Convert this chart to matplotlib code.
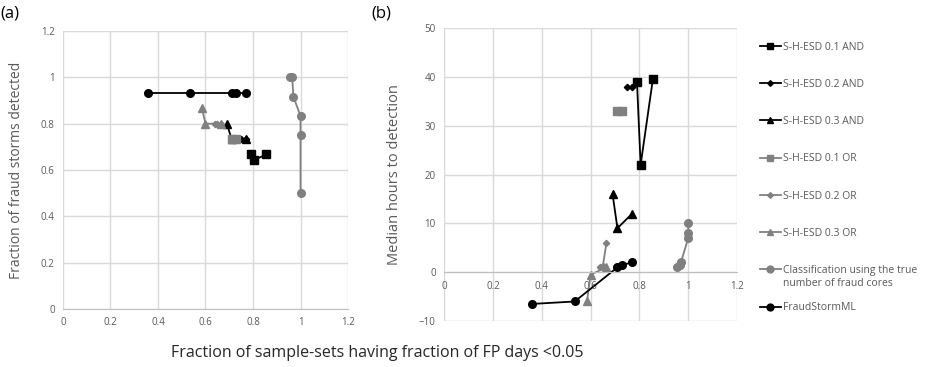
import matplotlib
matplotlib.use("Agg")
import matplotlib.pyplot as plt
from matplotlib.lines import Line2D

plt.rcParams["font.family"] = ["Open Sans", "DejaVu Sans"]

# series data: shared x, y for panel (a) and panel (b)
series_names = [
    "S-H-ESD 0.1 AND",
    "S-H-ESD 0.2 AND",
    "S-H-ESD 0.3 AND",
    "S-H-ESD 0.1 OR",
    "S-H-ESD 0.2 OR",
    "S-H-ESD 0.3 OR",
    "Classification using the true",
    "FraudStormML",
]
# second line of the wrapped legend label for the "true cores" series
wrap_line = "number of fraud cores"

and01_x = [0.79, 0.805, 0.855]
and01_a = [0.667, 0.643, 0.667]
and01_b = [39, 22, 39.5]

and02_x = [0.75, 0.77]
and02_a = [0.733, 0.733]
and02_b = [38, 38]

and03_x = [0.69, 0.71, 0.77]
and03_a = [0.8, 0.733, 0.733]
and03_b = [16, 9, 12]

or01_x = [0.71, 0.73]
or01_a = [0.733, 0.733]
or01_b = [33, 33]

or02_x = [0.64, 0.65, 0.665]
or02_a = [0.8, 0.8, 0.8]
or02_b = [1, 1.2, 6]

or03_x = [0.585, 0.6, 0.665]
or03_a = [0.867, 0.8, 0.8]
or03_b = [-6, -0.5, 1]

true_x = [0.955, 0.965, 0.97, 1.0, 1.0, 1.0]
true_a = [1.0, 1.0, 0.917, 0.833, 0.75, 0.5]
true_b = [1, 1.5, 2, 7, 8, 10]

fsml_x = [0.36, 0.535, 0.71, 0.73, 0.77]
fsml_a = [0.933, 0.933, 0.933, 0.933, 0.933]
fsml_b = [-6.5, -6, 1, 1.5, 2]

xs = [and01_x, and02_x, and03_x, or01_x, or02_x, or03_x, true_x, fsml_x]
ya = [and01_a, and02_a, and03_a, or01_a, or02_a, or03_a, true_a, fsml_a]
yb = [and01_b, and02_b, and03_b, or01_b, or02_b, or03_b, true_b, fsml_b]

BLACK = "#000000"
GRAY = "#808080"
styles = [
    (BLACK, "s", 5.5),
    (BLACK, "D", 3.2),
    (BLACK, "^", 5.5),
    (GRAY, "s", 5.5),
    (GRAY, "D", 3.2),
    (GRAY, "^", 5.5),
    (GRAY, "o", 5.5),
    (BLACK, "o", 5.5),
]

TXT = "#595959"
GRID = "#d9d9d9"

fig = plt.figure(figsize=(9.33, 3.67), dpi=100)
ax_a = fig.add_axes([0.0675, 0.158, 0.3055, 0.7575])
ax_b = fig.add_axes([0.476, 0.1253, 0.314, 0.798])


def style_axis(ax):
    for s in ["top", "right", "left"]:
        ax.spines[s].set_visible(False)
    ax.spines["bottom"].set_color("#bfbfbf")
    ax.grid(True, color=GRID, linewidth=1)
    ax.set_axisbelow(True)
    ax.tick_params(length=0, labelsize=7, colors=TXT, pad=6)
    ax.set_xlim(0, 1.2)
    ax.set_xticks([0, 0.2, 0.4, 0.6, 0.8, 1.0, 1.2])
    ax.set_xticklabels(["0", "0.2", "0.4", "0.6", "0.8", "1", "1.2"])


handles = []
for i in range(len(series_names)):
    c, m, ms = styles[i]
    ax_a.plot(xs[i], ya[i], color=c, marker=m, markersize=ms, linewidth=1.3, clip_on=False)
    ax_b.plot(xs[i], yb[i], color=c, marker=m, markersize=ms, linewidth=1.3, clip_on=False)
    handles.append(Line2D([], [], color=c, marker=m, markersize=ms * 0.9, linewidth=1.3))

style_axis(ax_a)
ax_a.set_ylim(0, 1.2)
ax_a.set_yticks([0, 0.2, 0.4, 0.6, 0.8, 1.0, 1.2])
ax_a.set_yticklabels(["0", "0.2", "0.4", "0.6", "0.8", "1", "1.2"])
ax_a.set_ylabel("Fraction of fraud storms detected", fontsize=10, color=TXT, labelpad=12)

style_axis(ax_b)
ax_b.set_ylim(-10, 50)
ax_b.set_yticks(range(-10, 51, 10))
ax_b.spines["bottom"].set_position(("data", 0))
ax_b.set_ylabel("Median hours to detection", fontsize=10.5, color=TXT, labelpad=12)

fig.text(0.0, 0.985, "(a)", fontsize=12, ha="left", va="top")
fig.text(0.398, 0.985, "(b)", fontsize=12, ha="left", va="top")
fig.text(0.404, 0.038, "Fraction of sample-sets having fraction of FP days <0.05",
         fontsize=11.5, ha="center", va="center", color="#262626")

leg = fig.legend(handles, series_names, loc="upper left", bbox_to_anchor=(0.81, 0.898),
                 frameon=False, fontsize=7.5, labelspacing=2.52, handlelength=2.0,
                 handletextpad=0.2, borderaxespad=0)
for t in leg.get_texts():
    t.set_color(TXT)

# place the wrapped second line right under the "Classification..." label
fig.canvas.draw()
inv = fig.transFigure.inverted()
bb = leg.get_texts()[6].get_window_extent()
x0, y0 = inv.transform((bb.x0, bb.y0))
fig.text(x0, y0 - 0.004, wrap_line, fontsize=7.5, color=TXT, ha="left", va="top")

fig.savefig("out.png", dpi=100)
